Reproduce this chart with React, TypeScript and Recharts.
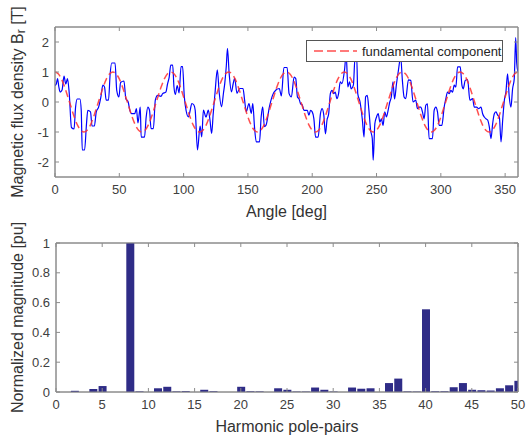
import { ComposedChart, Line, Bar, XAxis, YAxis, ReferenceArea } from 'recharts';

// angle [deg], B_r [T]
const fluxPoints: [number, number][] = [
  [0, 0.55], [1, 0.6], [2, 0.78], [3, 0.5], [4, 0.33], [5.5, 0.4], [7, 0.86], [8.4, 0.6], [9.7, 0.78], [11, 0.33],
  [12.8, -0.85], [14.8, -0.9], [16, -0.17], [17.3, 0.1], [19.4, 0.1], [20.4, -0.28], [21.2, -1.6], [23, -1.6], [24.5, -0.72], [25.5, -0.28],
  [27.6, -0.33], [28.8, -0.8], [30.6, -0.8], [32.1, -0.33], [33.9, -0.17], [35.7, 0.17], [37.2, 0.56], [38.5, 0.5], [39.8, 0.06], [41.6, 0.06],
  [42.9, 0.94], [44.1, 1.3], [46.7, 1.3], [48, 0.39], [49.7, 0.17], [51, 0.65], [53.6, 0.7], [55.1, 0.11], [56.9, 0], [58.2, -0.28],
  [59.4, -0.39], [62, -0.39], [63.3, -0.22], [64.5, -0.7], [66.3, -0.17], [67, -1.17], [69.6, -1.17], [70.9, -0.5], [72.2, -0.17], [73.5, -0.28],
  [74.7, -0.89], [76.5, -0.89], [78, 0.06], [79.8, 0.22], [82.4, 0.19], [83.7, 0.28], [86.2, 0.33], [87.5, 0.6], [88.8, 0.83], [90, 1.23],
  [91.5, 1.23], [92.5, 0.5], [93.6, 0.25], [95, 0.55], [96.5, 0.3], [98, 1.18], [99.2, 1.18], [100.5, 0.2], [102, -0.3], [103.8, -0.5],
  [105, -0.3], [106.4, -0.05], [108, -0.1], [109, -0.27], [110.8, -1.6], [112.8, -0.8], [114.1, -1.16], [115.4, -0.27], [117.4, -0.5], [119.2, -0.27],
  [120.5, -0.6], [121.8, -1.05], [123, -0.4], [124.4, 0.29], [126.2, 1.07], [127.7, 0.3], [129.5, -0.16], [131, 0.3], [132, 0.62], [133.2, 1.2],
  [134.1, 1.79], [135.4, 0.96], [137.2, 0.34], [138.5, 0.6], [139.7, 0.79], [141.5, 0.29], [143.6, 0.45], [146.2, 0.45], [147.4, 0.07], [148.7, -0.32],
  [150.8, -0.05], [152.6, -0.38], [153.8, -0.05], [155.1, -0.82], [156.5, -1.33], [159, -1.33], [160.3, -0.5], [161.5, -0.16], [162.8, -0.82], [164.1, -0.77],
  [166.7, -0.16], [169.2, 0.23], [171.8, 0.4], [174.4, 0.45], [176, 0.2], [178, 1.15], [180.5, 1.15], [182, 0.28], [183.8, 0.17], [185.9, 0.83],
  [187.2, 0.78], [188.5, 0.17], [189.7, 0.11], [191, -0.06], [192.3, -0.1], [193.6, -0.28], [196.2, -0.28], [197.4, -0.44], [198.7, -0.28], [200, -0.33],
  [201.3, -0.56], [202.6, -1.17], [204.6, -1.17], [206.4, -0.39], [207.7, -0.22], [209, -0.44], [210.3, -1.06], [211.5, -0.6], [212.8, -0.39], [214.1, 0.28],
  [215.4, 0.39], [216.7, 0.28], [217.9, 0.33], [219.2, 0.11], [220.5, 0.28], [221.8, 0.67], [223.1, 0.61], [225.1, 1.06], [226.4, 1.6], [227.7, 0.5],
  [229, 0.67], [230.3, 0.44], [232, 0.56], [233.3, 1.5], [234.6, 1.5], [235.4, 0.28], [237.2, 0], [239, -0.6], [240.3, -1.17], [241.5, 0.17],
  [242.8, 0.22], [244.1, -0.28], [245.4, -0.94], [246.7, -1.22], [247.4, -1.94], [248.7, -0.72], [250, -0.5], [251.3, -0.39], [252.6, -0.67], [253.8, -0.56],
  [255.1, -0.78], [256.4, -0.33], [257.7, -0.5], [259, -0.28], [260.3, 0], [261.5, 0.17], [262.8, 0.67], [264, 0.1], [265.5, 0.6], [267, 1.05],
  [268.8, 1.5], [270.1, 0.72], [271.4, 0.17], [272.7, 0.11], [274.8, 0.74], [276.6, 0.72], [278.4, 0], [280.5, 0.06], [281.8, -0.22], [283.1, -0.17],
  [284.4, -0.17], [285.7, -0.33], [287, -0.56], [288.3, -0.11], [289.6, -0.06], [290.9, -1.22], [293.5, -1.22], [294.8, -0.28], [296.1, -0.17], [297.4, -0.33],
  [298.7, -0.78], [300.8, -0.78], [302.6, -0.17], [303.9, 0.11], [305.2, 0.33], [306.5, 0.28], [307.8, 0.39], [309.1, 0.33], [310.4, 0.56], [311.7, 0.5],
  [313, 1.17], [315.1, 1.17], [316.4, 0.56], [317.4, 0.44], [319, 0.72], [320.8, 0.75], [322.6, 0.06], [324.7, 0.11], [326, -0.17], [327.8, -0.17],
  [329.4, -0.22], [331.2, -0.17], [332.5, -0.39], [333.8, -0.5], [335.1, -0.56], [336.4, -0.6], [337.7, -0.83], [339, -1.22], [340.3, -0.72], [341.6, -0.39],
  [342.9, -0.33], [344.2, -0.44], [345.5, -0.5], [346.8, -1.33], [348.1, -0.6], [349.4, 0.06], [350.6, 0.33], [351.9, 0.94], [353.2, 0.17], [354.5, -0.17],
  [355.8, 0.44], [357.1, 0.78], [358.2, 2.15], [359, 1.3], [360, 1.0],
];

// fundamental component, sampled every 2.5 deg from 0 to 360
const fundStep = 2.5;
const fundValues = [
  1, 0.94, 0.77, 0.5, 0.17, -0.17, -0.5, -0.77, -0.94, -1, -0.94, -0.77, -0.5, -0.17, 0.17, 0.5, 0.77, 0.94,
  1, 0.94, 0.77, 0.5, 0.17, -0.17, -0.5, -0.77, -0.94, -1, -0.94, -0.77, -0.5, -0.17, 0.17, 0.5, 0.77, 0.94,
  1, 0.94, 0.77, 0.5, 0.17, -0.17, -0.5, -0.77, -0.94, -1, -0.94, -0.77, -0.5, -0.17, 0.17, 0.5, 0.77, 0.94,
  1, 0.94, 0.77, 0.5, 0.17, -0.17, -0.5, -0.77, -0.94, -1, -0.94, -0.77, -0.5, -0.17, 0.17, 0.5, 0.77, 0.94,
  1, 0.94, 0.77, 0.5, 0.17, -0.17, -0.5, -0.77, -0.94, -1, -0.94, -0.77, -0.5, -0.17, 0.17, 0.5, 0.77, 0.94,
  1, 0.94, 0.77, 0.5, 0.17, -0.17, -0.5, -0.77, -0.94, -1, -0.94, -0.77, -0.5, -0.17, 0.17, 0.5, 0.77, 0.94,
  1, 0.94, 0.77, 0.5, 0.17, -0.17, -0.5, -0.77, -0.94, -1, -0.94, -0.77, -0.5, -0.17, 0.17, 0.5, 0.77, 0.94,
  1, 0.94, 0.77, 0.5, 0.17, -0.17, -0.5, -0.77, -0.94, -1, -0.94, -0.77, -0.5, -0.17, 0.17, 0.5, 0.77, 0.94,
  1,
];

// harmonic pole-pairs 1..50, normalized magnitude
const harmonics = Array.from({ length: 50 }, (_, i) => i + 1);
const magnitudes = [
  0, 0.008, 0, 0.02, 0.04, 0, 0, 1.0, 0.004, 0,
  0.025, 0.035, 0.004, 0.006, 0, 0.015, 0.005, 0, 0, 0.035,
  0.005, 0.004, 0, 0.025, 0.015, 0.003, 0.003, 0.03, 0.015, 0.003,
  0, 0.03, 0.022, 0.025, 0, 0.06, 0.09, 0.004, 0.003, 0.555,
  0.005, 0.005, 0.032, 0.06, 0.015, 0.012, 0.01, 0.025, 0.045, 0.075,
];

const angleTicks = [0, 50, 100, 150, 200, 250, 300, 350];
const fluxTicks = [-2, -1, 0, 1, 2];
const harmTicks = [0, 5, 10, 15, 20, 25, 30, 35, 40, 45, 50];
const magTicks = [0, 0.2, 0.4, 0.6, 0.8, 1];

const fluxData = fluxPoints.map(([angle, v]) => ({ angle, v }));
const fundData = fundValues.map((v, i) => ({ angle: i * fundStep, v }));
const barData = harmonics.map((h, i) => ({ h, mag: magnitudes[i] }));

const FONT = '"Liberation Sans", Arial, Helvetica, sans-serif';
const AXIS = '#8c8c8c';
const tickStyle = { fill: '#404040', fontSize: 13, fontFamily: FONT };
const axisProps = {
  axisLine: { stroke: AXIS },
  tickLine: { stroke: AXIS },
  tickSize: -4,
};
const noLabel = () => '';

const xTitle = (text: string) => (props: any) => {
  const { x, y, width } = props.viewBox;
  return (
    <text x={x + width / 2} y={y + 34} textAnchor="middle" dominantBaseline="central"
      fill="#333" fontSize={16} fontFamily={FONT}>{text}</text>
  );
};

const yTitle = (render: () => any) => (props: any) => {
  const { y, height } = props.viewBox;
  const cx = 17;
  const cy = y + height / 2;
  return (
    <text x={cx} y={cy} transform={`rotate(-90, ${cx}, ${cy})`} textAnchor="middle" dominantBaseline="central"
      fill="#333" fontSize={16} fontFamily={FONT}>{render()}</text>
  );
};

export default function App() {
  return (
    <div style={{ position: 'absolute', left: 0, top: 0, width: 529, height: 439, background: '#fff', fontFamily: FONT }}>
      {/* Flux density waveform */}
      <div style={{ position: 'absolute', left: 0, top: 0 }}>
        <ComposedChart width={529} height={220} margin={{ top: 26, right: 10, bottom: 0, left: 0 }}>
          <XAxis xAxisId="b" dataKey="angle" type="number" domain={[0, 360]} ticks={angleTicks}
            allowDataOverflow height={43} tick={tickStyle} tickMargin={12} {...axisProps}
            label={xTitle('Angle [deg]')} />
          <XAxis xAxisId="t" orientation="top" dataKey="angle" type="number" domain={[0, 360]} ticks={angleTicks}
            allowDataOverflow height={1} tick={tickStyle} tickFormatter={noLabel} {...axisProps} />
          <YAxis yAxisId="l" type="number" domain={[-2.5, 2.5]} ticks={fluxTicks} allowDataOverflow
            width={55} tick={tickStyle} tickMargin={10} {...axisProps}
            label={yTitle(() => (
              <>
                Magnetic flux density B<tspan dy={4} fontSize={12}>r</tspan><tspan dy={-4}> [T]</tspan>
              </>
            ))} />
          <YAxis yAxisId="r" orientation="right" type="number" domain={[-2.5, 2.5]} ticks={fluxTicks}
            allowDataOverflow width={1} tick={tickStyle} tickFormatter={noLabel} {...axisProps} />
          <ReferenceArea xAxisId="b" yAxisId="l" x1={0} x2={360} y1={-2.5} y2={2.5}
            fill="none" stroke={AXIS} strokeOpacity={1} ifOverflow="extendDomain" />
          {/* invisible series so the top / right box axes get ticks */}
          <Line xAxisId="t" yAxisId="r" data={fundData} dataKey="v" stroke="none" dot={false}
            isAnimationActive={false} legendType="none" />
          <Line xAxisId="b" yAxisId="l" data={fluxData} dataKey="v" type="monotone" stroke="#0000ff"
            strokeWidth={1.2} dot={false} isAnimationActive={false} />
          <Line xAxisId="b" yAxisId="l" data={fundData} dataKey="v" type="monotone" stroke="#ff3030"
            strokeOpacity={0.85} strokeWidth={1.5} strokeDasharray="7 4" dot={false} isAnimationActive={false} />
        </ComposedChart>
      </div>

      {/* Legend */}
      <div style={{
        position: 'absolute', left: 306, top: 40, width: 195, height: 20, background: '#fff',
        border: '1px solid #555', display: 'flex', alignItems: 'center', boxSizing: 'content-box',
      }}>
        <svg width={52} height={20} style={{ display: 'block' }}>
          <line x1={7} x2={50} y1={10} y2={10} stroke="#ff3030" strokeOpacity={0.85} strokeWidth={1.5} strokeDasharray="9 4" />
        </svg>
        <span style={{ fontSize: 13, color: '#262626', marginLeft: 3, whiteSpace: 'nowrap' }}>fundamental component</span>
      </div>

      {/* Harmonic spectrum */}
      <div style={{ position: 'absolute', left: 0, top: 220 }}>
        <ComposedChart width={529} height={219} data={barData} margin={{ top: 22, right: 10, bottom: 0, left: 0 }}>
          <XAxis xAxisId="b" dataKey="h" type="number" domain={[0, 50]} ticks={harmTicks} allowDataOverflow
            height={47} tick={tickStyle} tickMargin={12} {...axisProps}
            label={xTitle('Harmonic pole-pairs')} />
          <XAxis xAxisId="t" orientation="top" dataKey="h" type="number" domain={[0, 50]} ticks={harmTicks}
            allowDataOverflow height={1} tick={tickStyle} tickFormatter={noLabel} {...axisProps} />
          <YAxis yAxisId="l" type="number" domain={[0, 1]} ticks={magTicks} allowDataOverflow
            width={56} tick={tickStyle} tickMargin={10} {...axisProps}
            label={yTitle(() => 'Normalized magnitude [pu]')} />
          <YAxis yAxisId="r" orientation="right" type="number" domain={[0, 1]} ticks={magTicks}
            allowDataOverflow width={1} tick={tickStyle} tickFormatter={noLabel} {...axisProps} />
          <ReferenceArea xAxisId="b" yAxisId="l" x1={0} x2={50} y1={0} y2={1}
            fill="none" stroke={AXIS} strokeOpacity={1} ifOverflow="extendDomain" />
          {/* invisible series so the top / right box axes get ticks */}
          <Line xAxisId="t" yAxisId="r" dataKey="mag" stroke="none" dot={false}
            isAnimationActive={false} legendType="none" />
          <Bar xAxisId="b" yAxisId="l" dataKey="mag" fill="#2f2c87" barSize={8} isAnimationActive={false} />
        </ComposedChart>
      </div>
    </div>
  );
}
